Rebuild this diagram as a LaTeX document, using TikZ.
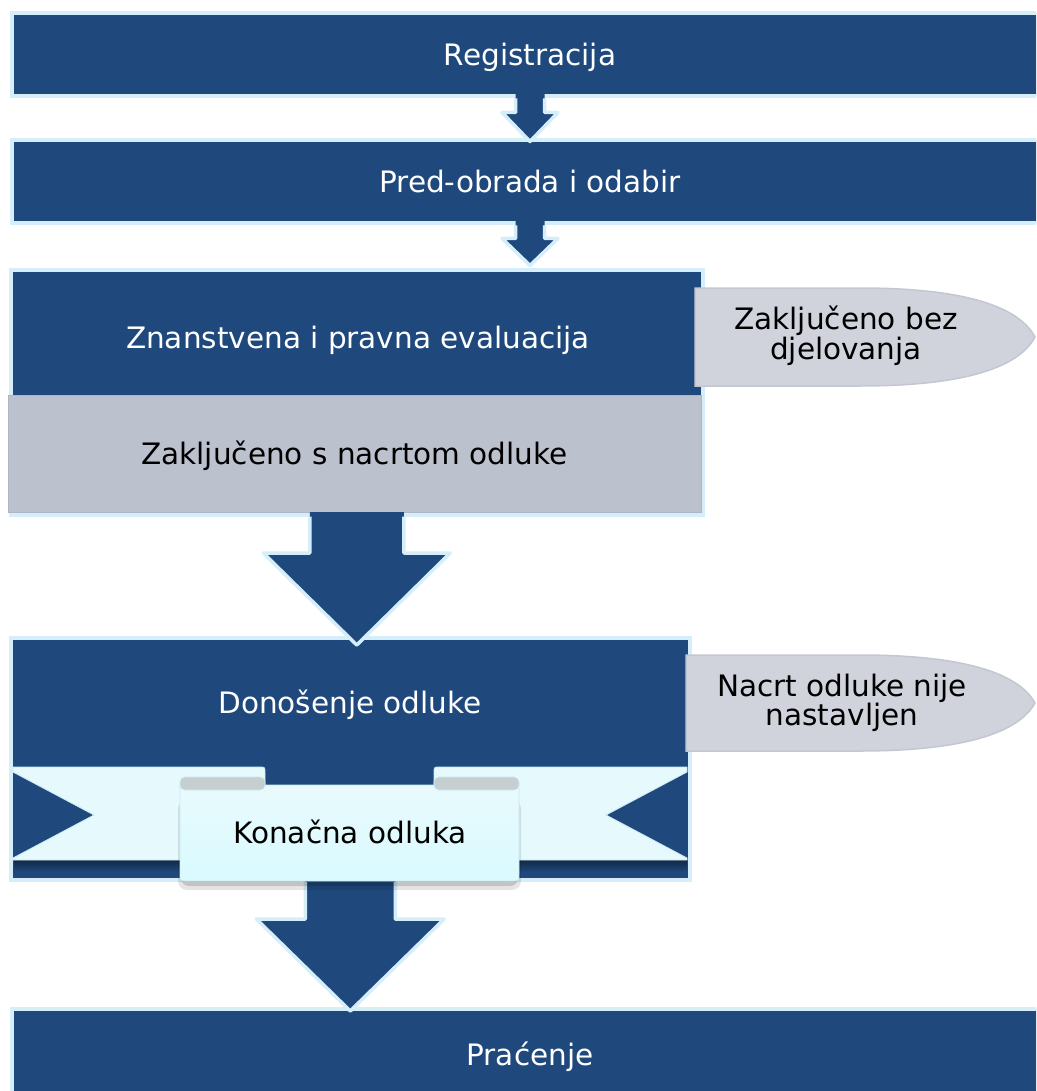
\documentclass[tikz,border=0pt]{standalone}
\usepackage{fontspec}
\setmainfont{DejaVu Sans}
\usetikzlibrary{calc}
\definecolor{dkblue}{HTML}{1F497D}
\definecolor{ltblue}{HTML}{D6EEFA}
\definecolor{grayfill}{HTML}{BCC1CE}
\definecolor{grayedge}{HTML}{AEB6C6}
\definecolor{callfill}{HTML}{D0D3DC}
\definecolor{calledge}{HTML}{C3C7D1}
\definecolor{ribbon}{HTML}{E6F9FC}
\definecolor{ribbontop}{HTML}{E9FAFD}
\definecolor{ribbonbot}{HTML}{D9FAFF}
\definecolor{ribbonedge}{HTML}{C9EAF3}
\definecolor{tube}{HTML}{C6CFD0}
\newcommand\blockarrow[6]{%
  \coordinate (ba-s) at (#1.south);
  \coordinate (ba-t0) at (#1.south |- #2.north);
  \coordinate (ba-t) at ([yshift=#6]ba-t0);
  \fill[dkblue] ([xshift=-#3, yshift=2.5pt]ba-s) -- ([xshift=-#3, yshift=#5]ba-t) -- ([xshift=-#4, yshift=#5]ba-t) -- (ba-t) -- ([xshift=#4, yshift=#5]ba-t) -- ([xshift=#3, yshift=#5]ba-t) -- ([xshift=#3, yshift=2.5pt]ba-s) -- cycle;
  \draw[arrowedge] ([xshift=-#3, yshift=-2pt]ba-s) -- ([xshift=-#3, yshift=#5]ba-t) -- ([xshift=-#4, yshift=#5]ba-t) -- (ba-t) -- ([xshift=#4, yshift=#5]ba-t) -- ([xshift=#3, yshift=#5]ba-t) -- ([xshift=#3, yshift=-2pt]ba-s);
}
\begin{document}
\begin{tikzpicture}[x=1pt,y=-1pt,
  txt/.style={font=\fontsize{29.5}{27}\selectfont, inner sep=0pt, outer sep=0pt},
  oneline/.style={txt, text height=21.5pt, text depth=0pt},
  bluebox/.style={draw=ltblue, line width=4pt, fill=dkblue, inner sep=0pt, outer sep=0pt, text=white, oneline},
  graybox/.style={fill=grayfill, draw=grayedge, line width=1pt, inner sep=0pt, outer sep=0pt, text=black, oneline},
  wlabel/.style={oneline, text=white},
  blabel/.style={oneline, text=black},
  clabel/.style={txt, align=center, text=black},
  callout/.style={fill=callfill, draw=calledge, line width=1.5pt},
  arrowedge/.style={draw=ltblue, line width=3.5pt, line join=round},
  ribbonband/.style={fill=ribbon, draw=ribbonedge, line width=0.8pt},
  tubestyle/.style={fill=tube, draw=ribbonedge, line width=0.6pt, rounded corners=5pt},
]
\useasboundingbox (0,0) rectangle (1036,1091);
\clip (0,0) rectangle (1036,1091);

% main boxes
\node[bluebox, minimum width=1036pt, minimum height=83pt] (reg) at (530,55) {Registracija};
\node[bluebox, minimum width=1036pt, minimum height=83pt] (pre) at (530,182) {Pred-obrada i odabir};
\node[bluebox, minimum width=692.5pt, minimum height=244.5pt] (evalf) at (356.75,392.25) {};
\node[graybox, minimum width=693pt, minimum height=117pt] (draft) at (354.5,453.5) {Zaključeno s nacrtom odluke};
\node[wlabel] (evaltxt) at (358,338) {Znanstvena i pravna evaluacija};
\node[bluebox, minimum width=678.5pt, minimum height=242.5pt] (dec) at (350.25,758.75) {};
\node[wlabel] (dectxt) at (350,703) {Donošenje odluke};
\node[bluebox, minimum width=1036pt, minimum height=91.5pt] (mon) at (530,1054.25) {Praćenje};

% block arrows
\blockarrow{reg}{pre}{14.5pt}{28pt}{29pt}{-1pt}
\blockarrow{pre}{evalf}{14.5pt}{28pt}{27pt}{4.5pt}
\blockarrow{evalf}{dec}{47pt}{93.5pt}{92pt}{-7.5pt}
\blockarrow{dec}{mon}{45pt}{94pt}{92pt}{-2.5pt}

% ribbon banner
\shade[top color=black!45!dkblue, bottom color=dkblue] (14,860) rectangle (687,872);
\filldraw[ribbonband] (13,767) -- (259,767) .. controls (265,767) .. (265,773) -- (265,860) -- (13,860) -- (13,858) -- (94,815) -- (13,772) -- cycle;
\filldraw[ribbonband] (687,767) -- (440,767) .. controls (434,767) .. (434,773) -- (434,860) -- (687,860) -- (687,858) -- (606,815) -- (687,772) -- cycle;
\fill[black, opacity=0.10, rounded corners=9pt] (178,800) rectangle (521,890);
\fill[black, opacity=0.15, rounded corners=8pt] (181,800) rectangle (518,886);
\shade[top color=ribbontop, bottom color=ribbonbot, draw=ribbonedge, line width=0.8pt]
  (180,785) -- (180,873) .. controls (180,881) .. (188,881) -- (511,881) .. controls (519,881) .. (519,873) -- (519,785) -- cycle;
\filldraw[tubestyle] (180,777) rectangle (265,790);
\filldraw[tubestyle] (434,777) rectangle (519,790);
\node[blabel] (final) at (350,833) {Konačna odluka};

% side callouts
\filldraw[callout] (695,288) -- (860,288) .. controls (960,288) and (1018,305) .. (1035,337) .. controls (1018,369) and (960,386) .. (860,386) -- (695,386) -- cycle;
\node[clabel] (closed) at (846,336) {Zaključeno bez\\djelovanja};
\filldraw[callout] (686,655) -- (860,655) .. controls (960,655) and (1018,672) .. (1035,703) .. controls (1018,734) and (960,751) .. (860,751) -- (686,751) -- cycle;
\node[clabel] (notcont) at (842,703) {Nacrt odluke nije\\nastavljen};
\end{tikzpicture}
\end{document}
